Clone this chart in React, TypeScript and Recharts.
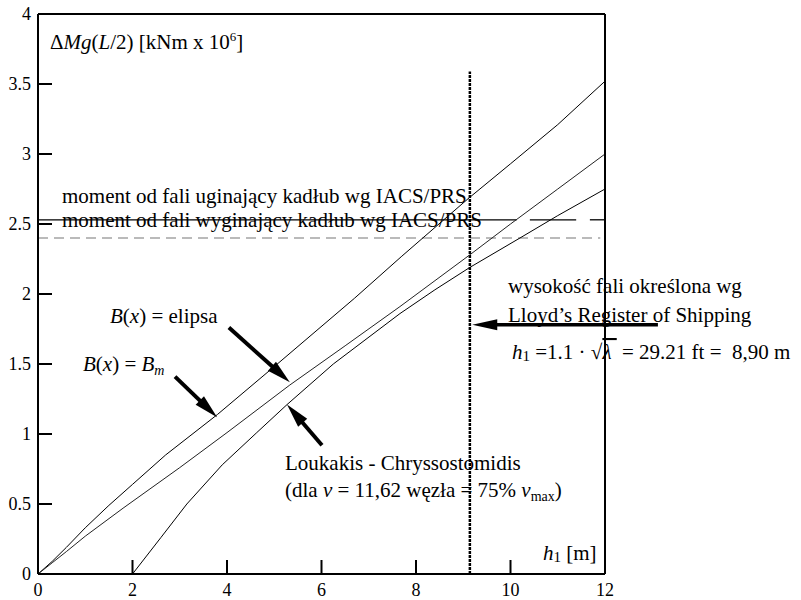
import React from 'react';
import { LineChart, Line, XAxis, YAxis, ReferenceLine } from 'recharts';

// ---- data ----
const xTicks = [0, 2, 4, 6, 8, 10, 12];
const yTicks = [0, 0.5, 1, 1.5, 2, 2.5, 3, 3.5, 4];

// B(x) = Bm
const bmX = [0, 0.3, 0.6, 1.0, 1.5, 2.0, 2.7, 3.8, 5.1, 6.7, 7.7, 9.1, 10, 11, 12];
const bmY = [0, 0.09, 0.19, 0.33, 0.49, 0.64, 0.85, 1.14, 1.51, 1.97, 2.27, 2.68, 2.93, 3.21, 3.52];
// B(x) = elipsa
const elX = [0, 0.3, 0.6, 1.0, 1.8, 3.0, 4.0, 5.33, 6.5, 7.66, 9.14, 10, 11, 12];
const elY = [0, 0.08, 0.16, 0.27, 0.47, 0.76, 1.01, 1.35, 1.63, 1.91, 2.28, 2.5, 2.75, 3.0];
// Loukakis - Chryssostomidis
const lcX = [2, 2.6, 3.15, 3.9, 4.63, 5.27, 6.25, 7.66, 8.4, 9.14, 10.2, 11, 12];
const lcY = [0, 0.26, 0.5, 0.78, 1.01, 1.21, 1.5, 1.86, 2.03, 2.19, 2.4, 2.56, 2.75];

const sagLevel = 2.53; // moment od fali uginający (solid)
const hogLevel = 2.4; // moment od fali wyginający (dashed)
const lloydH = 9.14; // h1 = 8,90 m line position

const toPts = (xs: number[], ys: number[]) => xs.map((x, i) => ({ x, y: ys[i] }));
const bmData = toPts(bmX, bmY);
const elData = toPts(elX, elY);
const lcData = toPts(lcX, lcY);

const FONT = '"Liberation Serif", "Times New Roman", serif';

const arrowShape = (head: number, half: number, w: number) => (p: any) => {
  const { x1, y1, x2, y2 } = p;
  const dx = x2 - x1;
  const dy = y2 - y1;
  const L = Math.hypot(dx, dy) || 1;
  const ux = dx / L;
  const uy = dy / L;
  const bx = x2 - ux * head;
  const by = y2 - uy * head;
  const px = -uy;
  const py = ux;
  return (
    <g>
      <line x1={x1} y1={y1} x2={bx + ux * 2} y2={by + uy * 2} stroke="#000" strokeWidth={w} />
      <polygon
        points={`${x2},${y2} ${bx + px * half},${by + py * half} ${bx - px * half},${by - py * half}`}
        fill="#000"
      />
    </g>
  );
};

const tickStyle = { fontFamily: FONT, fontSize: 18, fill: '#000', style: { fontFamily: FONT } };
const axisLineStyle = { stroke: '#000', strokeWidth: 2 };
const noLabel = () => '';
const txt = { fontFamily: FONT, fontSize: 21, fill: '#000', style: { fontFamily: FONT, whiteSpace: 'pre' as const } };

export default function App() {
  return (
    <div style={{ position: 'absolute', left: 0, top: 0, width: 801, height: 600, background: '#fff', fontFamily: FONT }}>
      <LineChart width={801} height={600} margin={{ top: 0, right: 0, bottom: 0, left: 0 }} style={{ fontFamily: FONT }}>
        <XAxis
          xAxisId="b"
          type="number"
          dataKey="x"
          domain={[0, 12]}
          ticks={xTicks}
          height={26}
          orientation="bottom"
          tickSize={-14}
          tickMargin={23}
          axisLine={axisLineStyle}
          tickLine={axisLineStyle}
          tick={tickStyle}
          interval={0}
        />
        <XAxis
          xAxisId="t"
          type="number"
          dataKey="x"
          domain={[0, 12]}
          ticks={xTicks}
          height={14}
          orientation="top"
          tickSize={-14}
          axisLine={axisLineStyle}
          tickLine={axisLineStyle}
          tickFormatter={noLabel}
          interval={0}
        />
        <YAxis
          yAxisId="l"
          type="number"
          domain={[0, 4]}
          ticks={yTicks}
          width={38}
          orientation="left"
          tickSize={-14}
          tickMargin={21}
          axisLine={axisLineStyle}
          tickLine={axisLineStyle}
          tick={tickStyle}
          interval={0}
        />
        <YAxis
          yAxisId="r"
          type="number"
          domain={[0, 4]}
          ticks={yTicks}
          width={196}
          orientation="right"
          tickSize={-14}
          axisLine={axisLineStyle}
          tickLine={axisLineStyle}
          tickFormatter={noLabel}
          interval={0}
        />

        <ReferenceLine
          xAxisId="b"
          yAxisId="l"
          segment={[{ x: 0, y: hogLevel }, { x: 11.9, y: hogLevel }]}
          stroke="#777"
          strokeWidth={1.2}
          strokeDasharray="10 6"
        />
        <ReferenceLine xAxisId="b" yAxisId="l" segment={[{ x: 0, y: sagLevel }, { x: 10.13, y: sagLevel }]} stroke="#000" strokeWidth={1.3} />
        <ReferenceLine xAxisId="b" yAxisId="l" segment={[{ x: 10.41, y: sagLevel }, { x: 11.39, y: sagLevel }]} stroke="#000" strokeWidth={1.3} />
        <ReferenceLine xAxisId="b" yAxisId="l" segment={[{ x: 11.68, y: sagLevel }, { x: 12, y: sagLevel }]} stroke="#000" strokeWidth={1.3} />
        <ReferenceLine
          xAxisId="b"
          yAxisId="l"
          segment={[{ x: lloydH, y: 0 }, { x: lloydH, y: 3.59 }]}
          stroke="#000"
          strokeWidth={2.5}
          strokeDasharray="3 1"
        />

        <Line xAxisId="b" yAxisId="l" data={bmData} dataKey="y" type="linear" stroke="#000" strokeWidth={1} dot={false} isAnimationActive={false} />
        <Line xAxisId="b" yAxisId="l" data={elData} dataKey="y" type="linear" stroke="#222" strokeWidth={1} dot={false} isAnimationActive={false} />
        <Line xAxisId="b" yAxisId="l" data={lcData} dataKey="y" type="linear" stroke="#000" strokeWidth={1} dot={false} isAnimationActive={false} />

        {/* arrows */}
        <ReferenceLine xAxisId="b" yAxisId="l" ifOverflow="visible" segment={[{ x: 2.9, y: 1.41 }, { x: 3.79, y: 1.12 }]} shape={arrowShape(24, 6, 4)} />
        <ReferenceLine xAxisId="b" yAxisId="l" ifOverflow="visible" segment={[{ x: 4.04, y: 1.76 }, { x: 5.33, y: 1.37 }]} shape={arrowShape(24, 6, 4)} />
        <ReferenceLine xAxisId="b" yAxisId="l" ifOverflow="visible" segment={[{ x: 6.01, y: 0.92 }, { x: 5.27, y: 1.21 }]} shape={arrowShape(24, 6, 4)} />
        <ReferenceLine xAxisId="b" yAxisId="l" ifOverflow="visible" segment={[{ x: 13.12, y: 1.78 }, { x: 9.19, y: 1.78 }]} shape={arrowShape(25, 5.5, 3.5)} />

        {/* texts */}
        <text x={50} y={49} {...txt}>
          <tspan>Δ</tspan>
          <tspan fontStyle="italic">Mg</tspan>
          <tspan>(</tspan>
          <tspan fontStyle="italic">L</tspan>
          <tspan>/2) [kNm x 10</tspan>
          <tspan fontSize={13} dy={-8}>6</tspan>
          <tspan dy={8}>]</tspan>
        </text>
        <text x={62} y={203} {...txt}>moment od fali uginający kadłub wg IACS/PRS</text>
        <text x={62} y={227} {...txt}>moment od fali wyginający kadłub wg IACS/PRS</text>
        <text x={110} y={323} {...txt}>
          <tspan fontStyle="italic">B</tspan>
          <tspan>(</tspan>
          <tspan fontStyle="italic">x</tspan>
          <tspan>) = elipsa</tspan>
        </text>
        <text x={83} y={371} {...txt}>
          <tspan fontStyle="italic">B</tspan>
          <tspan>(</tspan>
          <tspan fontStyle="italic">x</tspan>
          <tspan>) = </tspan>
          <tspan fontStyle="italic">B</tspan>
          <tspan fontStyle="italic" fontSize={14} dy={4}>m</tspan>
        </text>
        <text x={285} y={470} {...txt}>Loukakis - Chryssostomidis</text>
        <text x={285} y={497} {...txt}>
          <tspan>(dla </tspan>
          <tspan fontStyle="italic">v</tspan>
          <tspan> = 11,62 węzła = 75% </tspan>
          <tspan fontStyle="italic">v</tspan>
          <tspan fontSize={14} dy={4}>max</tspan>
          <tspan dy={-4}>)</tspan>
        </text>
        <text x={508} y={293} {...txt}>wysokość fali określona wg</text>
        <text x={508} y={322} {...txt}>Lloyd’s Register of Shipping</text>
        <text x={512} y={359} {...txt}>
          <tspan fontStyle="italic">h</tspan>
          <tspan fontSize={15} dy={2}>1</tspan>
          <tspan dy={-2}>{' =1.1 · √'}</tspan>
          <tspan fontStyle="italic" style={{ textDecoration: 'overline' }}>{'λ '}</tspan>
          <tspan>{' = 29.21 ft =  8,90 m'}</tspan>
        </text>
        <text x={543} y={560} {...txt}>
          <tspan fontStyle="italic">h</tspan>
          <tspan fontSize={15} dy={2}>1</tspan>
          <tspan dy={-2}> [m]</tspan>
        </text>
      </LineChart>
    </div>
  );
}
